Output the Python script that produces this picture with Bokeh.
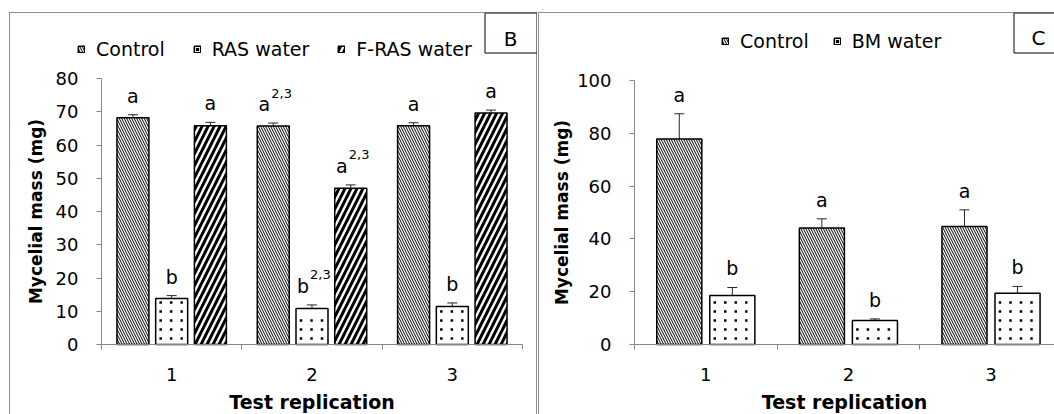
import numpy as np
from bokeh.plotting import figure
from bokeh.models import (ColumnDataSource, FixedTicker, Whisker, TeeHead, Legend,
                          LegendItem, Label, BoxAnnotation)
from bokeh.layouts import row
from bokeh.core.properties import value
from bokeh.embed import file_html
from bokeh.resources import INLINE

# ---------------- data ----------------
reps = [1, 2, 3]
rep_labels = ["1", "2", "3"]
y_title = "Mycelial mass (mg)"
x_title = "Test replication"

# Panel B
b_names = ["Control", "RAS water", "F-RAS water"]
b_control = [68.2, 65.7, 65.8]
b_control_err = [0.9, 0.9, 0.9]
b_ras = [13.8, 10.8, 11.4]
b_ras_err = [0.9, 1.1, 1.1]
b_fras = [65.8, 47.0, 69.6]
b_fras_err = [1.0, 1.0, 0.9]
b_control_sig = ["a", "a", "a"]
b_control_sup = ["", "2,3", ""]
b_ras_sig = ["b", "b", "b"]
b_ras_sup = ["", "2,3", ""]
b_fras_sig = ["a", "a", "a"]
b_fras_sup = ["", "2,3", ""]
b_yticks = [0, 10, 20, 30, 40, 50, 60, 70, 80]

# Panel C
c_names = ["Control", "BM water"]
c_control = [77.8, 44.1, 44.7]
c_control_err = [9.6, 3.5, 6.3]
c_bm = [18.6, 9.1, 19.4]
c_bm_err = [3.0, 0.6, 2.6]
c_control_sig = ["a", "a", "a"]
c_control_sup = ["", "", ""]
c_bm_sig = ["b", "b", "b"]
c_bm_sup = ["", "", ""]
c_yticks = [0, 20, 40, 60, 80, 100]

# ---------------- styles ----------------
FONT = "DejaVu Sans"
AX = "#868686"
PANEL_BORDER = "#8f8f8f"
H = 402
CONTROL_STYLE = dict(hatch_pattern="left_diagonal_line", hatch_scale=5, hatch_weight=1)
DOT_STYLE = None  # sparse dot texture drawn as small square markers
WIDE_STYLE = dict(hatch_pattern="right_diagonal_line", hatch_scale=12, hatch_weight=3)


def dot_texture(xs, tops, bar_w, cat_px, unit_px, step_x=10.5, step_y=9.0,
                inset_x=5.0, inset_y=6.0):
    """positions of the sparse dot fill inside each bar (pixel grid -> data units)"""
    dx, dy = [], []
    w_px = bar_w * cat_px
    for x, t in zip(xs, tops):
        left = x - bar_w / 2
        h_px = t * unit_px
        cx = inset_x
        while cx < w_px - 3:
            cy = inset_y
            while cy < h_px - 3:
                dx.append(left + cx / cat_px)
                dy.append(cy / unit_px)
                cy += step_y
            cx += step_x
    return dx, dy


def panel(series, offsets, bar_w, yticks, width, ax_x, cat_px, ax_y, unit_px,
          ytitle_standoff, leg_x, leg_y, leg_spacing, tag, box, tag_xy, css, margin):
    # frame covers the whole canvas; axes are pinned with fixed_location
    x0 = 0.5 - ax_x / cat_px
    x1 = 0.5 + (width - ax_x) / cat_px
    y0 = -(H - ax_y) / unit_px
    y1 = ax_y / unit_px
    p = figure(width=width, height=H, x_range=(x0, x1), y_range=(y0, y1),
               output_backend="svg", toolbar_location=None,
               min_border_left=0, min_border_right=0, min_border_top=0,
               min_border_bottom=0, styles=css, margin=margin)
    p.xgrid.visible = False
    p.ygrid.visible = False
    p.outline_line_color = None
    p.border_fill_color = None
    p.background_fill_color = None

    xa = p.xaxis[0]
    ya = p.yaxis[0]
    xa.fixed_location = 0
    ya.fixed_location = 0.5
    xa.bounds = (0.5, 3.5)
    ya.bounds = (yticks[0], yticks[-1])
    xa.ticker = FixedTicker(ticks=reps, minor_ticks=[0.5, 1.5, 2.5, 3.5])
    xa.major_label_overrides = {r: l for r, l in zip(reps, rep_labels)}
    ya.ticker = FixedTicker(ticks=yticks, minor_ticks=[])
    for ax in (xa, ya):
        ax.axis_line_color = AX
        ax.major_tick_line_color = AX
        ax.minor_tick_line_color = AX
        ax.major_label_text_font = FONT
        ax.major_label_text_font_size = "18px"
        ax.major_label_text_color = "black"
        ax.axis_label_text_font = FONT
        ax.axis_label_text_font_style = "bold"
        ax.axis_label_text_color = "black"
    xa.major_tick_out = 0
    xa.major_tick_in = 0
    xa.minor_tick_out = 5
    xa.minor_tick_in = 0
    xa.major_label_standoff = 18
    xa.axis_label = x_title
    xa.axis_label_text_font_size = "19px"
    xa.axis_label_standoff = 7
    ya.major_tick_out = 5
    ya.major_tick_in = 0
    ya.major_label_standoff = 18
    ya.axis_label = y_title
    ya.axis_label_text_font_size = "17px"
    ya.axis_label_standoff = ytitle_standoff

    items = []
    for (name, vals, errs, sig, sup, style), off in zip(series, offsets):
        xs = np.array(reps, float) + off
        vals = np.array(vals, float)
        errs = np.array(errs, float)
        src = ColumnDataSource(dict(x=xs, top=vals, upper=vals + errs))
        kw = style if style is not None else {}
        r = p.vbar(x="x", top="top", bottom=0, width=bar_w, source=src, fill_color="white",
                   line_color="black", line_width=1.5, hatch_color="black", **kw)
        rends = [r]
        if style is None:
            dx, dy = dot_texture(xs, vals, bar_w, cat_px, unit_px)
            d = p.scatter(dx, dy, marker="square", size=2.5, fill_color="black",
                          line_color=None)
            rends.append(d)
        items.append(LegendItem(label=name, renderers=rends))
        p.add_layout(Whisker(source=src, base="x", lower="top", upper="upper",
                             dimension="height", line_color="#262626", line_width=1,
                             upper_head=TeeHead(size=10, line_color="#262626", line_width=1),
                             lower_head=None))
        has_sup = [s != "" for s in sup]
        lsrc = ColumnDataSource(dict(x=xs, y=vals + errs, t=list(sig),
                                     dx=[-9 if h else 0 for h in has_sup]))
        p.text(x="x", y="y", text="t", x_offset="dx", y_offset=-19, source=lsrc,
               text_font=value(FONT), text_font_size="19px", text_align="center",
               text_baseline="alphabetic", text_color="black")
        idx = [i for i, h in enumerate(has_sup) if h]
        if idx:
            ssrc = ColumnDataSource(dict(x=xs[idx], y=(vals + errs)[idx],
                                         t=[sup[i] for i in idx]))
            p.text(x="x", y="y", text="t", x_offset=-2, y_offset=-30, source=ssrc,
                   text_font=value(FONT), text_font_size="13px", text_align="left",
                   text_baseline="alphabetic", text_color="black")

    leg = Legend(items=items, orientation="horizontal", location=(leg_x, leg_y),
                 glyph_width=8, glyph_height=8, label_standoff=11, spacing=leg_spacing,
                 padding=0, margin=0, border_line_color=None, background_fill_alpha=0,
                 label_text_font=FONT, label_text_font_size="19px",
                 label_text_color="black")
    p.add_layout(leg)

    l, r_, t, b = box
    p.add_layout(BoxAnnotation(left=l, right=r_, top=t, bottom=b,
                               left_units="canvas", right_units="canvas",
                               top_units="canvas", bottom_units="canvas",
                               fill_color="white", fill_alpha=1,
                               line_color="black", line_alpha=1, line_width=1))
    p.add_layout(Label(x=tag_xy[0], y=tag_xy[1], x_units="canvas", y_units="canvas",
                       text=tag, text_font=FONT, text_font_size="20px",
                       text_align="center", text_baseline="middle", text_color="black"))
    return p


left = panel(
    [(b_names[0], b_control, b_control_err, b_control_sig, b_control_sup, CONTROL_STYLE),
     (b_names[1], b_ras, b_ras_err, b_ras_sig, b_ras_sup, DOT_STYLE),
     (b_names[2], b_fras, b_fras_err, b_fras_sig, b_fras_sup, WIDE_STYLE)],
    [-0.276, 0.0, 0.276], 0.228, b_yticks, 528, 92, 140.33, 332, 3.325,
    7, 68, 354, 28, "B", (475.5, 527.5, 0.5, 40.5), (501, 26),
    {"box-shadow": f"inset 1px 0 0 {PANEL_BORDER}, inset 0 1px 0 {PANEL_BORDER}, inset -1px 0 0 {PANEL_BORDER}"},
    (12, 0, 0, 9))

right = panel(
    [(c_names[0], c_control, c_control_err, c_control_sig, c_control_sup, CONTROL_STYLE),
     (c_names[1], c_bm, c_bm_err, c_bm_sig, c_bm_sup, DOT_STYLE)],
    [-0.186, 0.186], 0.316, c_yticks, 516, 96, 142.6, 332, 2.64,
    2, 183, 362, 24, "C", (475.5, 530, 0.5, 40.5), (500, 25),
    {"box-shadow": f"inset 1px 0 0 {PANEL_BORDER}, inset 0 1px 0 {PANEL_BORDER}"},
    (12, 0, 0, 1))

layout = row(left, right, spacing=0)
open("out.html", "w").write(file_html(layout, INLINE))
